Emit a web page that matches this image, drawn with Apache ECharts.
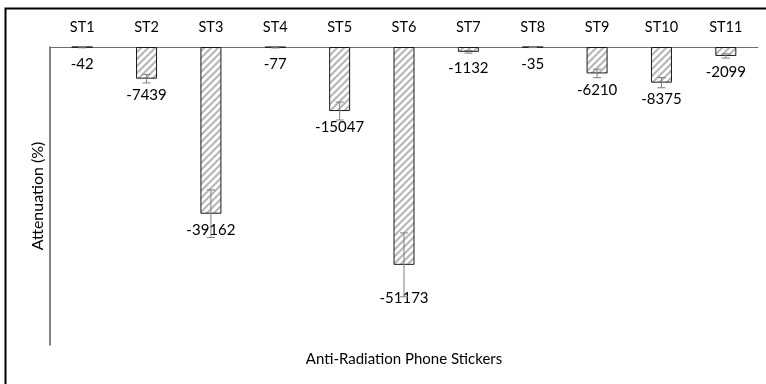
<!DOCTYPE html>
<html>
<head>
<meta charset="utf-8">
<script src="https://cdn.jsdelivr.net/npm/echarts@6/dist/echarts.min.js"></script>
<style>
  html, body { margin: 0; padding: 0; background: #fff; }
  #chart { width: 766px; height: 384px; }
</style>
</head>
<body>
<div id="chart"></div>
<script>
// Sticker codes along the top axis
const categories = ['ST1', 'ST2', 'ST3', 'ST4', 'ST5', 'ST6', 'ST7', 'ST8', 'ST9', 'ST10', 'ST11'];
// Mean attenuation per sticker (%)
const attenuation = [-42, -7439, -39162, -77, -15047, -51173, -1132, -35, -6210, -8375, -2099];
// Error bar half-widths (%)
const errorSize = [150, 1000, 5600, 150, 2100, 7500, 300, 100, 1000, 1200, 500];

// Diagonal hatch fill for the bars
function hatchPattern() {
  const s = 7;
  const c = document.createElement('canvas');
  c.width = s; c.height = s;
  const g = c.getContext('2d');
  g.fillStyle = '#ffffff';
  g.fillRect(0, 0, s, s);
  g.strokeStyle = '#b8b8b8';
  g.lineWidth = 2.2;
  g.beginPath();
  g.moveTo(-1, s + 1); g.lineTo(s + 1, -1);
  g.moveTo(-2, 2); g.lineTo(2, -2);
  g.moveTo(s - 2, s + 2); g.lineTo(s + 2, s - 2);
  g.stroke();
  return c;
}

const font = 'Lato';
const chart = echarts.init(document.getElementById('chart'), null, { renderer: 'canvas' });

// ST6's label sits a little further down than the rest
const extraLabelGap = { 5: 17 };

const barData = attenuation.map((v, i) => {
  const item = { value: v };
  if (extraLabelGap[i]) item.label = { distance: 9 + extraLabelGap[i] };
  return item;
});

const errData = attenuation.map((v, i) => [i, v - errorSize[i], v + errorSize[i]]);

const gridLeft = 50, gridRight = 8;

chart.setOption({
  animation: false,
  backgroundColor: '#ffffff',
  textStyle: { fontFamily: font },
  grid: { left: gridLeft, right: gridRight, top: 47, bottom: 39, containLabel: false },
  xAxis: {
    type: 'category',
    position: 'top',
    data: categories,
    axisLine: { show: true, lineStyle: { color: '#4472C4', width: 1 } },
    axisTick: { show: false },
    axisLabel: { color: '#000', fontSize: 14.5, fontFamily: font, margin: 12 }
  },
  yAxis: {
    type: 'value',
    min: -70000,
    max: 0,
    axisLine: { show: true, onZero: false, lineStyle: { color: '#595959', width: 1.5 } },
    axisTick: { show: false },
    axisLabel: { show: false },
    splitLine: { show: false },
    name: 'Attenuation (%)',
    nameLocation: 'middle',
    nameRotate: 90,
    nameGap: 4,
    nameTextStyle: { color: '#000', fontSize: 16, fontFamily: font }
  },
  series: [
    {
      type: 'bar',
      data: barData,
      barWidth: 21,
      itemStyle: {
        color: { image: hatchPattern(), repeat: 'repeat' },
        borderColor: '#1a1a1a',
        borderWidth: 1
      },
      label: {
        show: true,
        position: 'bottom',
        distance: 9,
        color: '#000',
        fontSize: 15,
        fontFamily: font
      },
      z: 2
    },
    {
      type: 'custom',
      data: errData,
      z: 3,
      renderItem: function (params, api) {
        const lo = api.coord([api.value(0), api.value(1)]);
        const hi = api.coord([api.value(0), api.value(2)]);
        const half = 4;
        const st = { stroke: '#7f7f7f', lineWidth: 1 };
        return {
          type: 'group',
          children: [
            { type: 'line', shape: { x1: lo[0], y1: lo[1], x2: hi[0], y2: hi[1] }, style: st },
            { type: 'line', shape: { x1: lo[0] - half, y1: lo[1], x2: lo[0] + half, y2: lo[1] }, style: st },
            { type: 'line', shape: { x1: hi[0] - half, y1: hi[1], x2: hi[0] + half, y2: hi[1] }, style: st }
          ]
        };
      }
    }
  ],
  graphic: [
    {
      type: 'rect',
      shape: { x: 5.5, y: 8.5, width: 800, height: 400 },
      style: { fill: 'none', stroke: '#000', lineWidth: 2 },
      silent: true
    },
    {
      // axis title centred under the plot area
      type: 'text',
      x: gridLeft + (766 - gridLeft - gridRight) / 2,
      y: 359,
      style: {
        text: 'Anti-Radiation Phone Stickers',
        fill: '#000',
        font: '15px ' + font,
        textAlign: 'center',
        textVerticalAlign: 'middle'
      }
    }
  ]
});
</script>
</body>
</html>
